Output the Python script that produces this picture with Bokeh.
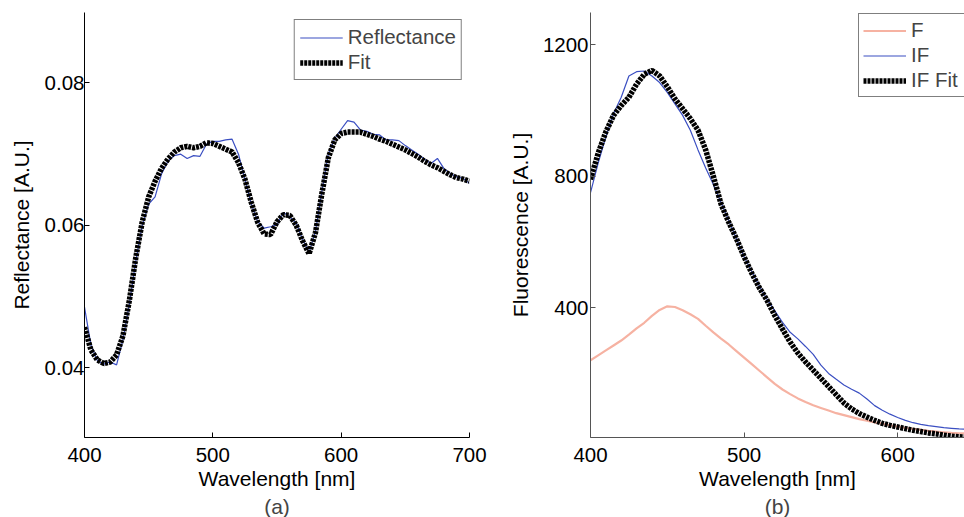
from bokeh.plotting import figure
from bokeh.layouts import row
from bokeh.models import Range1d, FixedTicker, Legend, LegendItem, Title
from bokeh.embed import file_html
from bokeh.resources import INLINE

# ---- data (a) ----
wl_a = list(range(400, 701, 5))
reflectance = [0.0485, 0.0432, 0.0410, 0.0405, 0.0408, 0.0404, 0.0440, 0.0490, 0.0550, 0.0600,
               0.0630, 0.0640, 0.0672, 0.0690, 0.0698, 0.0700, 0.0694, 0.0698, 0.0697, 0.0714,
               0.0718, 0.0718, 0.0720, 0.0721, 0.0700, 0.0665, 0.0630, 0.0605, 0.0596, 0.0598,
               0.0601, 0.0618, 0.0612, 0.0603, 0.0580, 0.0562, 0.0592, 0.0648, 0.0700, 0.0722,
               0.0735, 0.0747, 0.0745, 0.0734, 0.0732, 0.0728, 0.0727, 0.0720, 0.0720, 0.0719,
               0.0712, 0.0706, 0.0700, 0.0693, 0.0687, 0.0694, 0.0680, 0.0673, 0.0668, 0.0666,
               0.0659]
fit_a = [0.0457, 0.0425, 0.0411, 0.0406, 0.0408, 0.0418, 0.0445, 0.0495, 0.0555, 0.0605,
         0.0640, 0.0662, 0.0680, 0.0693, 0.0703, 0.0709, 0.0711, 0.0709, 0.0711, 0.0716,
         0.0715, 0.0711, 0.0707, 0.0703, 0.0688, 0.0665, 0.0632, 0.0604, 0.0588, 0.0587,
         0.0605, 0.0615, 0.0614, 0.0600, 0.0578, 0.0560, 0.0590, 0.0645, 0.0695, 0.0720,
         0.0729, 0.0731, 0.0731, 0.0731, 0.0728, 0.0725, 0.0721, 0.0718, 0.0714, 0.0710,
         0.0706, 0.0701, 0.0696, 0.0690, 0.0685, 0.0681, 0.0676, 0.0671, 0.0667, 0.0665,
         0.0662]

# ---- data (b) ----
wl_b = list(range(400, 646, 5))
F = [240, 255, 270, 285, 300, 318, 337, 354, 375, 393,
     404, 402, 392, 380, 366, 345, 325, 306, 288, 268,
     248, 228, 208, 188, 168, 151, 137, 124, 113, 103,
     95, 87, 79, 73, 67, 61, 56, 51, 47, 42,
     38, 34, 31, 28, 25, 23, 21, 19, 18, 17]
IF = [750, 840, 920, 990, 1040, 1105, 1118, 1120, 1105, 1085,
      1055, 1020, 985, 940, 880, 825, 775, 720, 665, 610,
      555, 510, 465, 425, 390, 355, 325, 305, 282, 258,
      225, 200, 182, 165, 152, 140, 122, 102, 88, 76,
      66, 57, 50, 45, 41, 38, 35, 33, 31, 30]
IF_fit = [790, 870, 935, 985, 1015, 1040, 1080, 1110, 1122, 1105,
          1072, 1035, 1005, 975, 940, 880, 800, 715, 660, 610,
          555, 505, 460, 422, 376, 335, 295, 262, 235, 210,
          185, 160, 135, 110, 92, 78, 67, 57, 48, 42,
          37, 32, 27, 23, 19, 16, 12, 9, 7, 6]

ticks_x_a = [400, 500, 600, 700]
ticks_y_a = [0.04, 0.06, 0.08]
ticks_x_b = [400, 500, 600]
ticks_y_b = [400, 800, 1200]

FONT = "Liberation Sans"
TICK_FS = "20.5px"
LAB_FS = "21px"
LEG_FS = "20.5px"
BLUE = "#3b4fc2"
SALMON = "#f6b2a2"


def style(p, axis_color):
    p.outline_line_color = None
    p.xgrid.visible = False
    p.ygrid.visible = False
    p.background_fill_color = "white"
    p.border_fill_color = "white"
    for ax in (p.xaxis[0], p.yaxis[0]):
        ax.axis_line_color = axis_color
        ax.major_tick_line_color = axis_color
        ax.major_tick_in = 5
        ax.major_tick_out = 0
        ax.minor_tick_line_color = None
        ax.major_label_text_font = FONT
        ax.major_label_text_font_size = TICK_FS
        ax.major_label_text_color = "black"
        ax.axis_label_text_font = FONT
        ax.axis_label_text_font_size = LAB_FS
        ax.axis_label_text_font_style = "normal"
        ax.axis_label_text_color = "black"
    p.xaxis[0].major_label_standoff = 10
    p.xaxis[0].axis_label_standoff = 2
    p.yaxis[0].major_label_standoff = 0
    p.yaxis[0].axis_label_standoff = 9


def style_legend(lg):
    lg.label_text_font = FONT
    lg.label_text_font_size = LEG_FS
    lg.label_height = 21
    lg.glyph_height = 21
    lg.glyph_width = 43
    lg.label_standoff = 5
    lg.spacing = 1
    lg.padding = 4
    lg.border_line_color = "black"
    lg.border_line_width = 1
    lg.background_fill_alpha = 1.0


# ---- figure (a) ----
p1 = figure(width=500, height=517, output_backend="svg", toolbar_location=None,
            x_range=Range1d(400, 700), y_range=Range1d(0.0302, 0.0899),
            min_border_left=84, min_border_right=31, min_border_top=12, min_border_bottom=80)
style(p1, "black")
p1.xaxis[0].ticker = FixedTicker(ticks=ticks_x_a)
p1.yaxis[0].ticker = FixedTicker(ticks=ticks_y_a)
p1.xaxis[0].axis_label = "Wavelength [nm]"
p1.yaxis[0].axis_label = "Reflectance [A.U.]"
r_ref = p1.line(wl_a, reflectance, line_color=BLUE, line_width=1.2)
r_fit = p1.line(wl_a, fit_a, line_color="black", line_width=5.5, line_dash="3 1")
lg1 = Legend(items=[LegendItem(label="Reflectance", renderers=[r_ref]),
                    LegendItem(label="Fit", renderers=[r_fit])],
             location="top_right", margin=7)
style_legend(lg1)
lg1.padding = 5
p1.add_layout(lg1, "center")
p1.add_layout(Title(text="(a)", align="center", text_font=FONT, text_font_size=LAB_FS,
                    text_font_style="normal", standoff=0, offset=0), "below")

# ---- figure (b) ----
p2 = figure(width=464, height=517, output_backend="svg", toolbar_location=None,
            x_range=Range1d(400, 643.5), y_range=Range1d(5, 1298),
            min_border_left=90, min_border_right=0, min_border_top=12, min_border_bottom=80)
style(p2, "#555555")
p2.yaxis[0].major_label_standoff = 2
p2.yaxis[0].axis_label_standoff = 8
p2.xaxis[0].ticker = FixedTicker(ticks=ticks_x_b)
p2.yaxis[0].ticker = FixedTicker(ticks=ticks_y_b)
p2.xaxis[0].axis_label = "Wavelength [nm]"
p2.yaxis[0].axis_label = "Fluorescence [A.U.]"
r_f = p2.line(wl_b, F, line_color=SALMON, line_width=2.2)
r_if = p2.line(wl_b, IF, line_color=BLUE, line_width=1.2)
r_iff = p2.line(wl_b, IF_fit, line_color="black", line_width=5.5, line_dash="3 1")
lg2 = Legend(items=[LegendItem(label="F", renderers=[r_f]),
                    LegendItem(label="IF", renderers=[r_if]),
                    LegendItem(label="IF Fit", renderers=[r_iff])],
             location=(268, 340))
style_legend(lg2)
lg2.label_width = 62
p2.add_layout(lg2, "center")
p2.add_layout(Title(text="(b)", align="center", text_font=FONT, text_font_size=LAB_FS,
                    text_font_style="normal", standoff=0, offset=0), "below")

layout = row(p1, p2)
open("out.html", "w").write(file_html(layout, INLINE))
